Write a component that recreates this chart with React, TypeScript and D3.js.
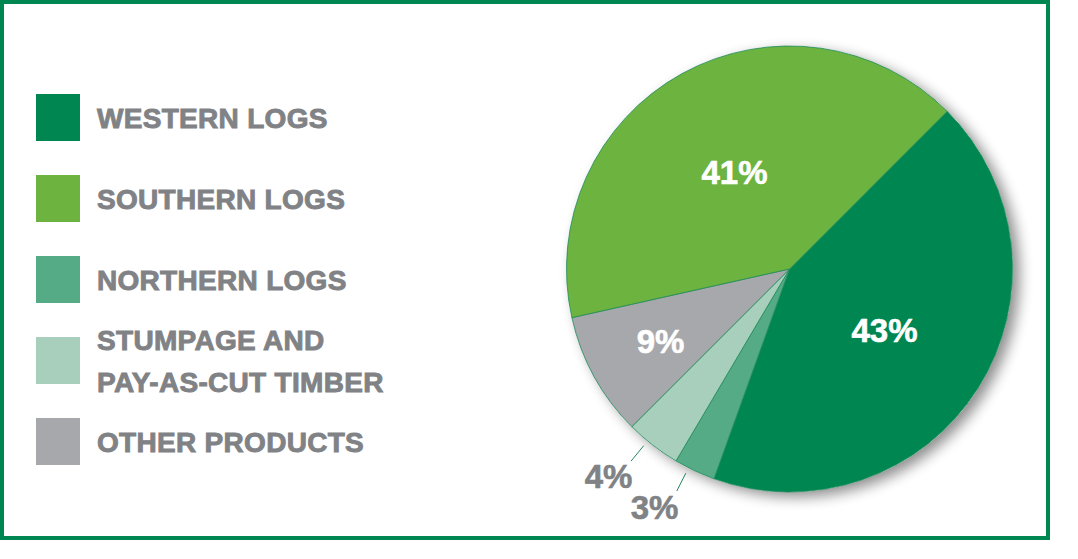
import React from "react";
import * as d3 from "d3";

const categories = ["WESTERN LOGS", "NORTHERN LOGS", "STUMPAGE AND PAY-AS-CUT TIMBER", "OTHER PRODUCTS", "SOUTHERN LOGS"];
const values = [43, 3, 4, 9, 41];
const colors = ["#008751", "#55AB86", "#A8CFBB", "#A7A8AB", "#6DB33F"];
const legendOrder = [0, 4, 1, 2, 3];
const legendLines = [["WESTERN LOGS"], ["SOUTHERN LOGS"], ["NORTHERN LOGS"], ["STUMPAGE AND", "PAY-AS-CUT TIMBER"], ["OTHER PRODUCTS"]];

const W = 1078, H = 559;
const cx = 789.5, cy = 269, R = 223;
const startDeg = 45;
const FONT = "'Liberation Sans', Arial, sans-serif";

export default function App() {
  const pie = d3.pie<number>().value(d => d).sort(null)
    .startAngle((startDeg * Math.PI) / 180)
    .endAngle(((startDeg + 360) * Math.PI) / 180);
  const arcs = pie(values);
  const arc = d3.arc<d3.PieArcDatum<number>>().innerRadius(0).outerRadius(R);

  const labelR = [0.5, 1.22, 1.2, 0.6, 0.6];
  const inside = [true, false, false, true, true];

  return (
    <svg width={W} height={H} style={{ position: "absolute", left: 0, top: 0, background: "#fff" }}>
      <defs>
        <filter id="sh" x="-20%" y="-20%" width="140%" height="140%">
          <feGaussianBlur in="SourceAlpha" stdDeviation="7" />
          <feOffset dx="7" dy="5" result="b" />
          <feComponentTransfer>
            <feFuncA type="linear" slope="0.45" />
          </feComponentTransfer>
          <feMerge>
            <feMergeNode />
            <feMergeNode in="SourceGraphic" />
          </feMerge>
        </filter>
      </defs>
      <rect x={2} y={2} width={1046} height={536} fill="#fff" stroke="#008751" strokeWidth={4} />
      <g transform={`translate(${cx},${cy})`}>
        <circle r={R} fill="#fff" filter="url(#sh)" />
        {arcs.map((a, i) => (
          <path key={i} d={arc(a) || ""} fill={colors[i]} stroke="#1E8A5A" strokeWidth={0.8} />
        ))}
        {arcs.map((a, i) => {
          const mid = (a.startAngle + a.endAngle) / 2;
          const r = R * labelR[i];
          let x = Math.sin(mid) * r;
          let y = -Math.cos(mid) * r;
          if (i === 0) { x = 95; y = 61; }
          if (i === 4) { x = -55; y = -97; }
          if (i === 3) { x = -129; y = 72; }
          if (i === 2) { x = -181; y = 207; }
          if (i === 1) { x = -135; y = 238; }
          const fill = inside[i] ? "#fff" : "#808285";
          return (
            <text key={"t" + i} x={x} y={y + 12} textAnchor="middle" fontFamily={FONT} fontWeight="bold"
              fontSize={33} fill={fill} stroke={fill} strokeWidth={0.6}>
              {values[i]}%
            </text>
          );
        })}
        {arcs.map((a, i) => {
          if (inside[i]) return null;
          const mid = (a.startAngle + a.endAngle) / 2 + (i === 1 ? 0.03 : 0.03);
          const r1 = R + 6, r2 = R + 26;
          return (
            <line key={"l" + i} x1={Math.sin(mid) * r1} y1={-Math.cos(mid) * r1} x2={Math.sin(mid) * r2} y2={-Math.cos(mid) * r2}
              stroke="#1E8A5A" strokeWidth={1} />
          );
        })}
      </g>
      {legendOrder.map((ci, k) => {
        const y0 = 94 + k * 81;
        const lines = legendLines[k];
        return (
          <g key={"lg" + k}>
            <rect x={36} y={y0} width={44} height={47} fill={colors[ci]} />
            {lines.map((t, j) => (
              <text key={j} x={97} y={lines.length === 1 ? y0 + 34 : y0 + 13 + j * 42} fontFamily={FONT} fontWeight="bold"
                fontSize={28} fill="#808285" stroke="#808285" strokeWidth={0.9} letterSpacing={0.3}>{t}</text>
            ))}
          </g>
        );
      })}
    </svg>
  );
}
